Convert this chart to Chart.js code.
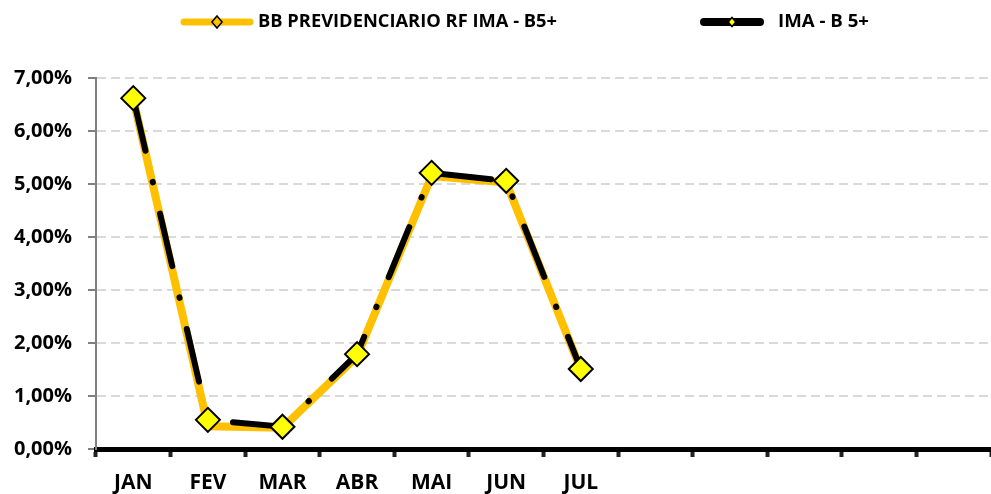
<!DOCTYPE html>
<html lang="pt">
<head>
    <meta charset="UTF-8">
    <title>BB Previdenciario RF IMA - B5+</title>
    <script src="https://cdn.jsdelivr.net/npm/chart.js"></script>
    <style>
        html, body {
            margin: 0;
            padding: 0;
            background: #ffffff;
            overflow: hidden;
            width: 991px;
            height: 494px;
        }
        .wrap {
            position: relative;
            width: 1005px;
            height: 494px;
        }
    </style>
</head>
<body>
    <div class="wrap">
        <canvas id="chart"></canvas>
    </div>

    <script>
        // categorias (12 meses, so os 7 primeiros tem rotulo)
        const months = ['JAN', 'FEV', 'MAR', 'ABR', 'MAI', 'JUN', 'JUL', '', '', '', '', ''];
        const fundName = 'BB PREVIDENCIARIO RF IMA - B5+';
        const indexName = 'IMA - B 5+';
        const fundValues = [6.60, 0.43, 0.40, 1.75, 5.15, 5.03, 1.50];
        const indexValues = [6.62, 0.55, 0.42, 1.79, 5.21, 5.06, 1.51];
        const yTicks = [0, 1, 2, 3, 4, 5, 6, 7];

        const ORANGE = '#FFC000';
        const YELLOW = '#FFFF00';

        const fmtPct = v => v.toFixed(2).replace('.', ',') + '%';

        // legenda desenhada a mao (linha + losango)
        const legendPlugin = {
            id: 'topLegend',
            afterDraw(chart) {
                const ctx = chart.ctx;
                const y = 22;
                const items = [
                    { x0: 184, x1: 250, color: ORANGE, w: 7, fill: ORANGE, r: 6, text: fundName, tx: 258, tw: 299 },
                    { x0: 704, x1: 760, color: '#000', w: 8, fill: YELLOW, r: 4.5, text: indexName, tx: 778, tw: 91 }
                ];
                ctx.save();
                items.forEach(it => {
                    ctx.beginPath();
                    ctx.lineCap = 'round';
                    ctx.lineWidth = it.w;
                    ctx.strokeStyle = it.color;
                    ctx.moveTo(it.x0, y);
                    ctx.lineTo(it.x1, y);
                    ctx.stroke();

                    const cx = (it.x0 + it.x1) / 2;
                    ctx.beginPath();
                    ctx.moveTo(cx, y - it.r);
                    ctx.lineTo(cx + it.r * 0.85, y);
                    ctx.lineTo(cx, y + it.r);
                    ctx.lineTo(cx - it.r * 0.85, y);
                    ctx.closePath();
                    ctx.fillStyle = it.fill;
                    ctx.fill();
                    ctx.lineWidth = 1.5;
                    ctx.strokeStyle = '#000';
                    ctx.stroke();

                    ctx.fillStyle = '#000';
                    ctx.font = "bold 18px 'Open Sans', sans-serif";
                    ctx.textBaseline = 'middle';
                    ctx.textAlign = 'left';
                    const natural = ctx.measureText(it.text).width;
                    const sx = it.tw / natural;
                    ctx.save();
                    ctx.translate(it.tx, y);
                    ctx.scale(sx, 1);
                    ctx.fillText(it.text, 0, 0);
                    ctx.restore();
                });
                ctx.restore();
            }
        };

        const ctx = document.getElementById('chart').getContext('2d');
        const chart = new Chart(ctx, {
            type: 'line',
            data: {
                labels: months,
                datasets: [
                    {
                        label: indexName,
                        data: indexValues,
                        borderColor: '#000000',
                        borderWidth: 6,
                        borderDash: [54, 32, 0.5, 32],
                        borderCapStyle: 'round',
                        tension: 0,
                        pointStyle: 'rectRot',
                        pointRadius: 12,
                        pointHoverRadius: 12,
                        pointBackgroundColor: YELLOW,
                        pointBorderColor: '#000000',
                        pointBorderWidth: 2,
                        order: 1
                    },
                    {
                        label: fundName,
                        data: fundValues,
                        borderColor: ORANGE,
                        borderWidth: 8,
                        borderJoinStyle: 'round',
                        tension: 0,
                        pointRadius: 0,
                        order: 2
                    }
                ]
            },
            options: {
                responsive: true,
                maintainAspectRatio: false,
                animation: false,
                layout: { padding: { top: 78, right: 0, left: 0, bottom: 0 } },
                plugins: {
                    legend: { display: false },
                    tooltip: { enabled: false }
                },
                scales: {
                    x: {
                        offset: true,
                        grid: {
                            offset: true,
                            drawOnChartArea: false,
                            drawTicks: true,
                            tickLength: 8,
                            tickWidth: 4,
                            tickColor: '#222222'
                        },
                        border: { color: '#000000', width: 5 },
                        ticks: {
                            color: '#000000',
                            autoSkip: false,
                            maxRotation: 0,
                            padding: 13,
                            font: { family: "'Open Sans', sans-serif", size: 21, weight: 'bold' }
                        },
                        afterFit(scale) { scale.height = 45; }
                    },
                    y: {
                        min: 0,
                        max: 7,
                        afterBuildTicks(scale) {
                            scale.ticks = yTicks.map(v => ({ value: v }));
                        },
                        grid: {
                            color: '#D9D9D9',
                            lineWidth: 2,
                            tickLength: 8,
                            tickColor: '#808080',
                            tickWidth: 2,
                            tickBorderDash: []
                        },
                        border: { color: '#808080', width: 2, dash: [9, 5] },
                        ticks: {
                            color: '#000000',
                            padding: 16,
                            callback: v => fmtPct(v),
                            font: { family: "'Open Sans', sans-serif", size: 20, weight: 'bold' }
                        },
                        afterFit(scale) { scale.width = 96; }
                    }
                }
            },
            plugins: [legendPlugin]
        });
    </script>
</body>
</html>
